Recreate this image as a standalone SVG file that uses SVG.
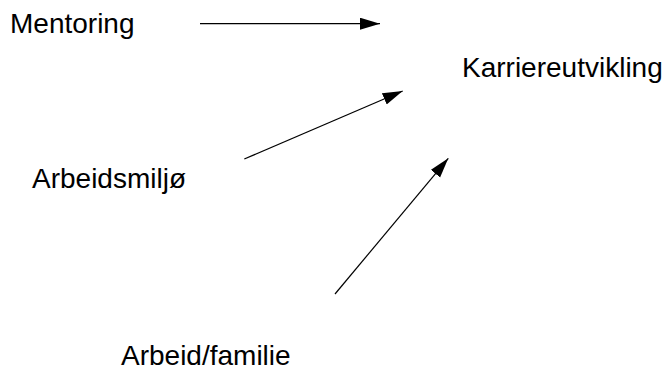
<svg xmlns="http://www.w3.org/2000/svg" width="666" height="373" viewBox="0 0 666 373">
<style>
text{font-family:"Liberation Sans",Arial,sans-serif;font-size:28px;fill:#000}
.c{stroke:#000;stroke-width:1.2;fill:none}
</style>
<defs>
<marker id="ah" markerUnits="userSpaceOnUse" markerWidth="22" markerHeight="13" refX="20" refY="6" orient="auto">
<path d="M0,0 L20,6 L0,12 Z" fill="#000"/>
</marker>
</defs>
<rect width="666" height="373" fill="#fff"/>
<g id="mentoring"><text x="10" y="33">Mentoring</text></g>
<g id="karriereutvikling"><text x="462" y="77">Karriereutvikling</text></g>
<g id="arbeidsmiljo"><text x="32" y="188">Arbeidsmiljø</text></g>
<g id="arbeid-familie"><text x="121" y="365">Arbeid/familie</text></g>
<g id="connectors">
<line class="c" x1="200" y1="23.7" x2="380" y2="23.7" marker-end="url(#ah)"/>
<line class="c" x1="244.3" y1="159" x2="402.7" y2="91" marker-end="url(#ah)"/>
<line class="c" x1="335" y1="294" x2="448.3" y2="158.3" marker-end="url(#ah)"/>
</g>
</svg>
